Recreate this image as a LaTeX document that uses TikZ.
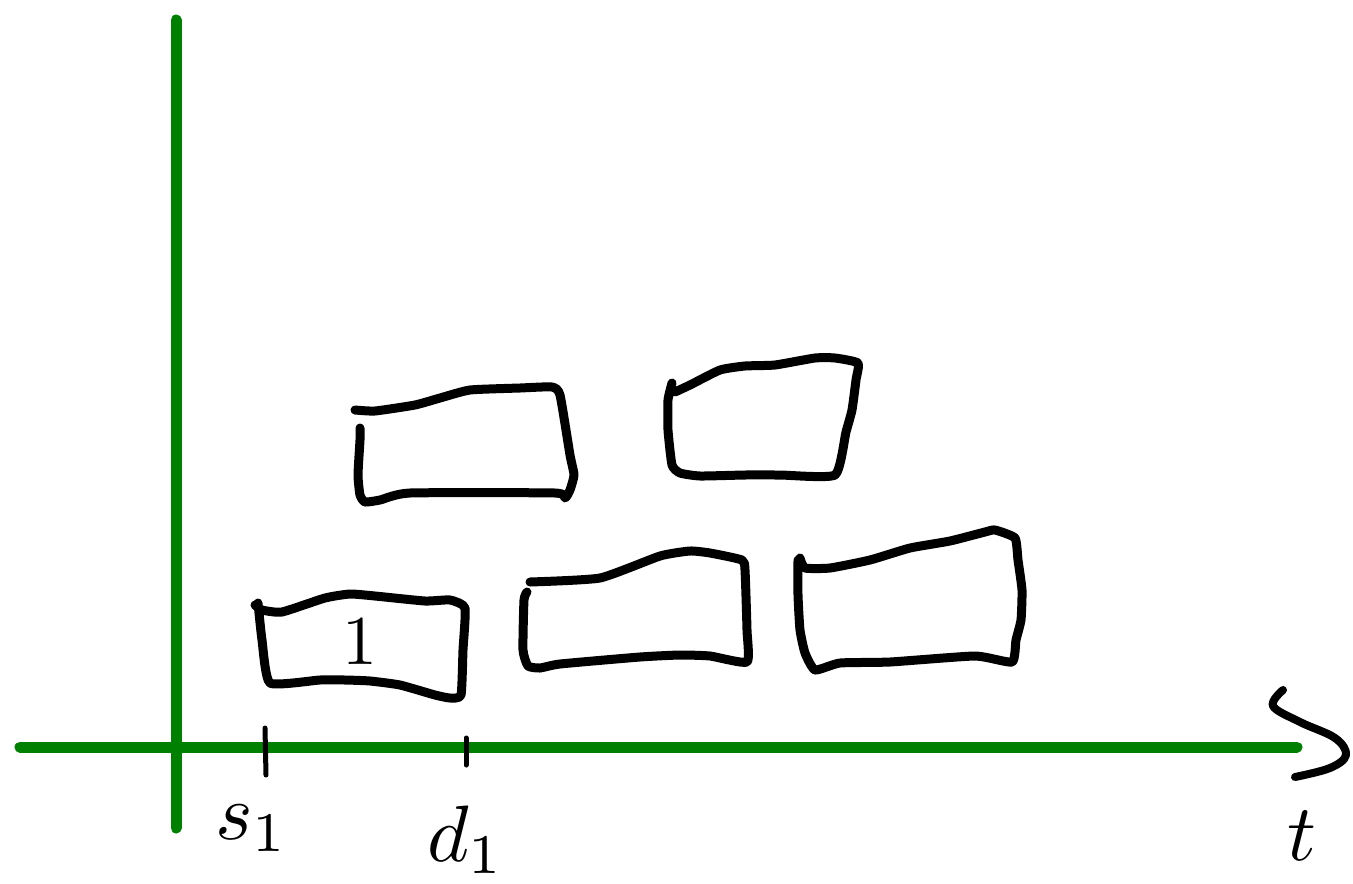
\documentclass[tikz,border=0pt]{standalone}
\begin{document}
\begin{tikzpicture}[x=1pt,y=-1pt,
  axis/.style={draw={rgb,255:red,0;green,128;blue,0},line width=11pt,line cap=round},
  box/.style={draw=black,line width=9pt,line join=round,line cap=round},
  tickline/.style={draw=black,line width=5pt,line cap=round},
  lbl/.style={scale=8,inner sep=0pt}]
\useasboundingbox (0,0) rectangle (1353,884);
\coordinate (ytop) at (176,20);
\coordinate (ybot) at (176,828);
\coordinate (xl) at (20,747);
\coordinate (xr) at (1297,747);
\draw[axis] (ybot) -- (ytop);
\draw[axis] (xl) -- (xr);
% arrow head
\draw[box,line width=8pt] plot[smooth,tension=0.6] coordinates {(1283,690) (1273,706) (1300,722) (1335,738) (1346,755) (1330,768) (1295,777)};
% ticks
\coordinate (s1a) at (265,728); \coordinate (s1b) at (266,775);
\coordinate (d1a) at (466,738); \coordinate (d1b) at (466,765);
\draw[tickline] (s1a) -- (s1b);
\draw[tickline] (d1a) -- (d1b);
\node[lbl] (s1) at (252,828) {$s_1$};
\node[lbl] (d1) at (466,840) {$d_1$};
\node[lbl] (t) at (1302,836) {$t$};
% box 1
\draw[box] plot[smooth,tension=0.3] coordinates {(255,605) (262,610) (282,612) (325,598) (350,594) (375,596) (425,601) (450,600) (465,608) (463,650) (461,695) (450,698) (435,695) (400,685) (370,681) (345,680) (320,680) (270,683) (262,640) (258,603)};
\node[scale=7,inner sep=0pt] (one) at (360,642) {$1$};
% box 2
\draw[box] plot[smooth,tension=0.3] coordinates {(355,410) (375,411) (415,405) (440,398) (470,390) (520,388) (552,387) (560,395) (570,455) (574,475) (570,490) (565,498) (555,493) (410,493) (380,500) (365,502) (360,495) (358,475) (360,440) (360,428)};
% box 3
\draw[box] plot[smooth,tension=0.3] coordinates {(675,392) (690,385) (720,370) (745,366) (775,365) (815,358) (835,358) (858,363) (856,380) (852,410) (846,432) (835,475) (780,475) (745,475) (700,476) (680,473) (672,465) (668,430) (668,400) (672,383)};
% box 4
\draw[box] plot[smooth,tension=0.3] coordinates {(530,582) (600,578) (660,556) (690,551) (710,553) (742,560) (745,570) (747,630) (747,662) (710,656) (680,655) (640,657) (560,664) (540,668) (528,666) (523,650) (524,600) (527,592)};
% box 5
\draw[box] plot[smooth,tension=0.3] coordinates {(800,558) (805,568) (830,568) (870,560) (910,548) (950,541) (985,532) (995,530) (1015,538) (1018,560) (1022,590) (1021,620) (1016,640) (1012,662) (975,656) (890,662) (840,663) (815,670) (805,653) (800,630) (798,595) (798,560)};
\end{tikzpicture}
\end{document}
